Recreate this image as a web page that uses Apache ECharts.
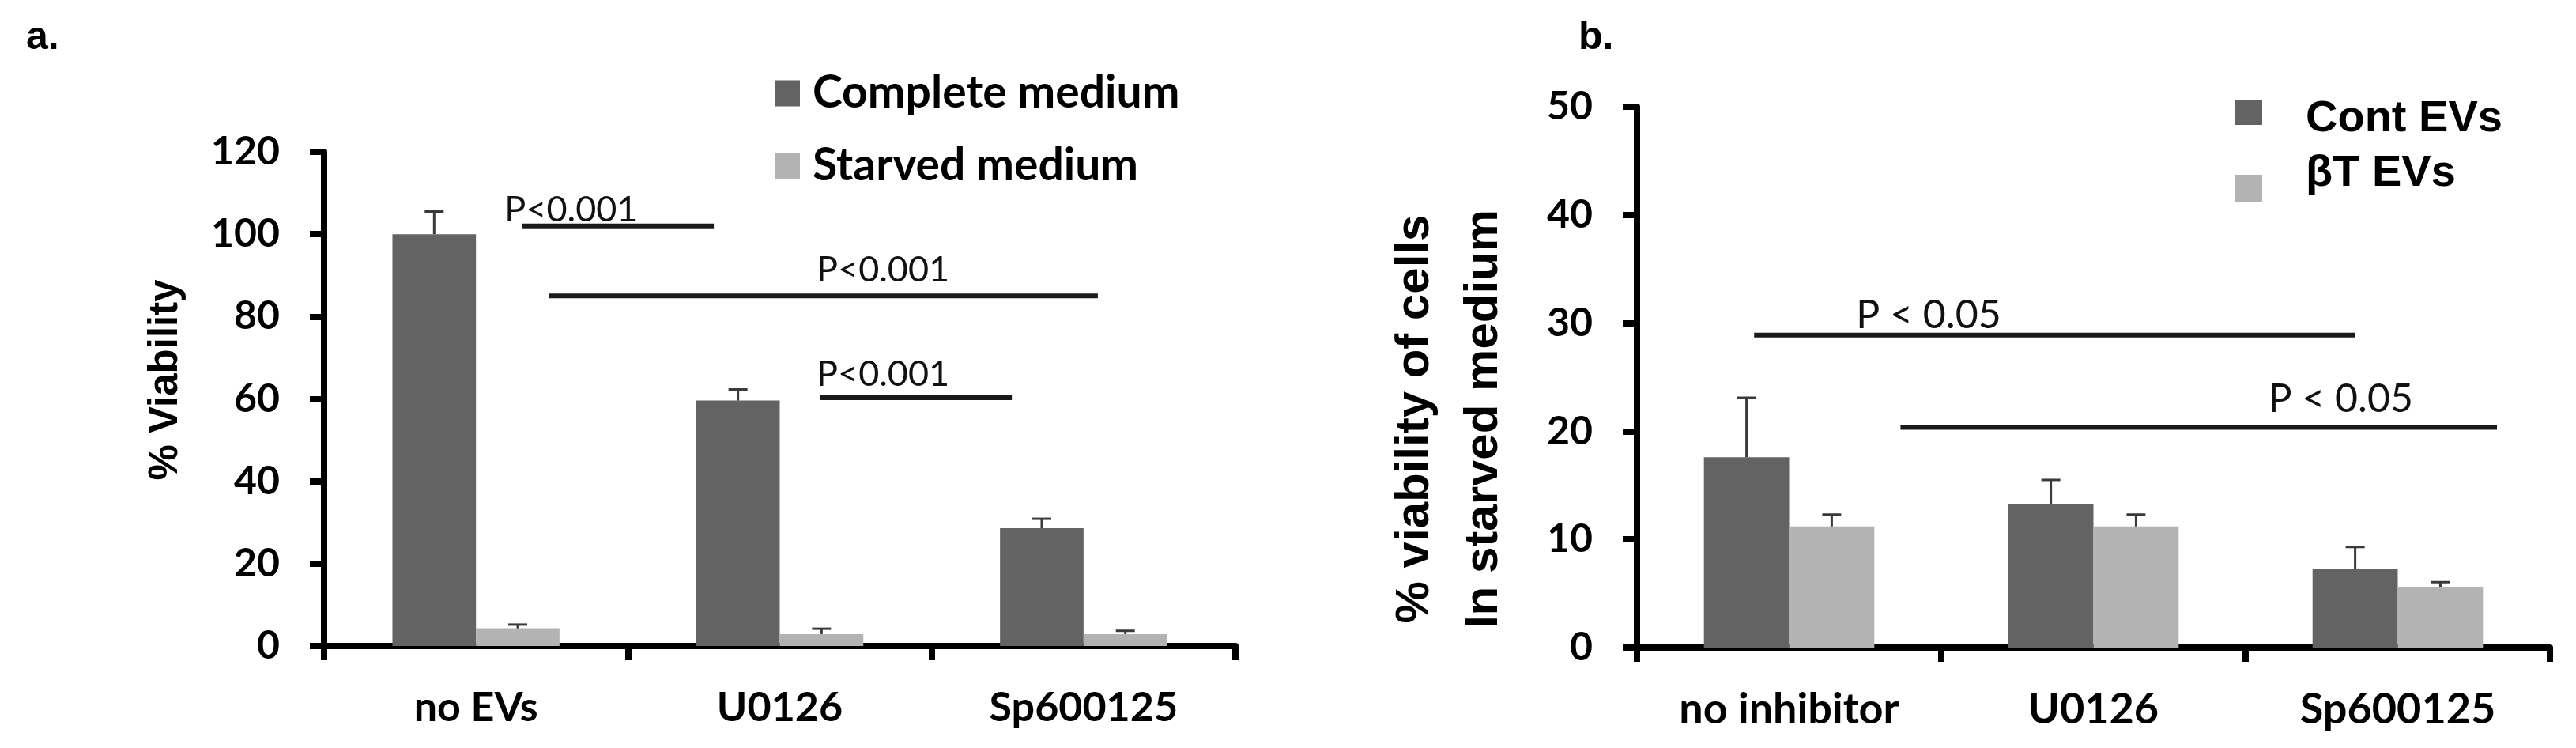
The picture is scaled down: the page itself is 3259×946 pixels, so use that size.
<!DOCTYPE html>
<html>
<head>
<meta charset="utf-8">
<script src="https://cdn.jsdelivr.net/npm/echarts@6.0.0/dist/echarts.min.js"></script>
<style>
  html, body { margin: 0; padding: 0; background: #fff; }
  #chart { width: 3259px; height: 946px; }
</style>
</head>
<body>
<div id="chart"></div>
<script>
// panel a
var categoriesA = ['no EVs', 'U0126', 'Sp600125']
var completeMedium = [100, 59.6, 28.6]
var completeErr = [5.5, 2.7, 2.3]
var starvedMedium = [4.3, 2.9, 2.9]
var starvedErr = [0.9, 1.3, 0.8]
var yTicksA = [0, 20, 40, 60, 80, 100, 120]
// significance: [from, to, level, labelX, labelLevel] in category units
var sigA = [
  [0.653, 1.283, 102, 0.594, 103.1],
  [0.739, 2.547, 85, 1.621, 88.5],
  [1.634, 2.264, 60.3, 1.621, 63.2]
]
var sigLabelsA = ['P<0.001', 'P<0.001', 'P<0.001']

// panel b
var categoriesB = ['no inhibitor', 'U0126', 'Sp600125']
var contEVs = [17.6, 13.3, 7.3]
var contErr = [5.5, 2.2, 2.0]
var btEVs = [11.2, 11.2, 5.6]
var btErr = [1.1, 1.1, 0.45]
var yTicksB = [0, 10, 20, 30, 40, 50]
var sigB = [
  [0.385, 2.36, 28.9, 0.72, 29.5],
  [0.866, 2.826, 20.35, 2.074, 21.7]
]
var sigLabelsB = ['P < 0.05', 'P < 0.05']

var DARK = '#636363'
var LIGHT = '#b3b3b3'
var labelFont = 'Lato'
var titleFont = 'Liberation Sans'

function errorRender (side, gap) {
  return function (params, api) {
    var idx = api.value(0)
    var base = api.coord([idx, api.value(1)])
    var top = api.coord([idx, api.value(1) + api.value(2)])
    var band = api.size([1, 0])[0]
    var bw = band * (1 - gap) / 2
    var x = base[0] + side * bw / 2
    return {
      type: 'group',
      children: [
        { type: 'line', shape: { x1: x, y1: base[1], x2: x, y2: top[1] }, style: { stroke: '#3a3a3a', lineWidth: 3 } },
        { type: 'line', shape: { x1: x - 12, y1: top[1], x2: x + 12, y2: top[1] }, style: { stroke: '#3a3a3a', lineWidth: 3 } }
      ]
    }
  }
}

function sigRender (labels, fontSize) {
  return function (params, api) {
    var p1 = api.coord([api.value(0), api.value(2)])
    var p2 = api.coord([api.value(1), api.value(2)])
    var pt = api.coord([api.value(3), api.value(4)])
    return {
      type: 'group',
      children: [
        { type: 'line', shape: { x1: p1[0], y1: p1[1], x2: p2[0], y2: p2[1] }, style: { stroke: '#1a1a1a', lineWidth: 6 } },
        {
          type: 'text', x: pt[0], y: pt[1] + 8,
          style: { text: labels[params.dataIndex], fill: '#111', fontFamily: labelFont, fontSize: fontSize, align: 'left', verticalAlign: 'bottom' }
        }
      ]
    }
  }
}

function catAxis (gridIndex, data, fontSize) {
  return {
    type: 'category', gridIndex: gridIndex, data: data,
    axisLine: { lineStyle: { color: '#000', width: 8 } },
    axisTick: { show: true, length: 18, lineStyle: { color: '#000', width: 8 } },
    axisLabel: { color: '#000', fontFamily: labelFont, fontWeight: 'bold', fontSize: fontSize, margin: 52 }
  }
}

function valAxis (gridIndex, ticks, name, nameGap, nameSize, lineHeight, namePad) {
  return {
    type: 'value', gridIndex: gridIndex,
    min: ticks[0], max: ticks[ticks.length - 1], interval: ticks[1] - ticks[0],
    splitLine: { show: false },
    axisLine: { show: true, lineStyle: { color: '#000', width: 8 } },
    axisTick: { show: true, length: 18, lineStyle: { color: '#000', width: 8 } },
    axisLabel: { color: '#000', fontFamily: labelFont, fontWeight: 'bold', fontSize: 50, margin: 56 },
    name: name, nameLocation: 'middle', nameGap: nameGap,
    nameTextStyle: { color: '#000', fontFamily: titleFont, fontWeight: 'bold', fontSize: nameSize, lineHeight: lineHeight, padding: namePad }
  }
}

function legendText (pad) {
  return {
    padding: pad,
    rich: { t: { fontFamily: titleFont, fontWeight: 'bold', fontSize: 56, color: '#000', lineHeight: 60 } }
  }
}

var chart = echarts.init(document.getElementById('chart'))
chart.setOption({
  animation: false,
  backgroundColor: '#fff',
  title: [
    { text: 'a.', left: 28, top: 18, textStyle: { fontFamily: titleFont, fontWeight: 'bold', fontSize: 50, color: '#000' } },
    { text: 'b.', left: 1992, top: 18, textStyle: { fontFamily: titleFont, fontWeight: 'bold', fontSize: 50, color: '#000' } }
  ],
  legend: [
    {
      left: 981, top: 88, padding: 0, orient: 'vertical', icon: 'rect', itemWidth: 31, itemHeight: 33, itemGap: 32,
      selectedMode: false, data: ['Complete medium', 'Starved medium'],
      textStyle: { fontFamily: labelFont, fontWeight: 'bold', fontSize: 57, color: '#000', lineHeight: 60, padding: [0, 0, 0, 11] }
    },
    {
      left: 2827, top: 123, padding: 0, icon: 'rect', itemWidth: 35, itemHeight: 32,
      selectedMode: false, data: ['Cont EVs'], formatter: '{t|{name}}',
      textStyle: legendText([18, 0, 0, 50])
    },
    {
      left: 2827, top: 192, padding: 0, icon: 'rect', itemWidth: 35, itemHeight: 34,
      selectedMode: false, data: ['βT EVs'], formatter: '{t|{name}}',
      textStyle: legendText([0, 0, 36, 50])
    }
  ],
  grid: [
    { left: 410, top: 192, width: 1153, height: 625 },
    { left: 2071, top: 135, width: 1155, height: 684 }
  ],
  xAxis: [
    catAxis(0, categoriesA, 52),
    catAxis(1, categoriesB, 54),
    { type: 'value', gridIndex: 0, min: 0, max: 3, show: false },
    { type: 'value', gridIndex: 1, min: 0, max: 3, show: false }
  ],
  yAxis: [
    valAxis(0, yTicksA, '% Viability', 170, 51, 60, [0, 0, 0, 48]),
    valAxis(1, yTicksB, '% viability of cells\nIn starved medium', 150, 60, 87, [0, 106, 0, 0])
  ],
  series: [
    { name: 'Complete medium', type: 'bar', xAxisIndex: 0, yAxisIndex: 0, data: completeMedium, itemStyle: { color: DARK }, barGap: '0%', barCategoryGap: '45%' },
    { name: 'Starved medium', type: 'bar', xAxisIndex: 0, yAxisIndex: 0, data: starvedMedium, itemStyle: { color: LIGHT }, barGap: '0%', barCategoryGap: '45%' },
    { name: 'Cont EVs', type: 'bar', xAxisIndex: 1, yAxisIndex: 1, data: contEVs, itemStyle: { color: DARK }, barGap: '0%', barCategoryGap: '44%' },
    { name: 'βT EVs', type: 'bar', xAxisIndex: 1, yAxisIndex: 1, data: btEVs, itemStyle: { color: LIGHT }, barGap: '0%', barCategoryGap: '44%' },
    {
      type: 'custom', xAxisIndex: 0, yAxisIndex: 0, z: 5, clip: false, encode: { x: 0, y: 1 },
      data: completeMedium.map(function (v, i) { return [i, v, completeErr[i]] }), renderItem: errorRender(-1, 0.45)
    },
    {
      type: 'custom', xAxisIndex: 0, yAxisIndex: 0, z: 5, clip: false, encode: { x: 0, y: 1 },
      data: starvedMedium.map(function (v, i) { return [i, v, starvedErr[i]] }), renderItem: errorRender(1, 0.45)
    },
    {
      type: 'custom', xAxisIndex: 1, yAxisIndex: 1, z: 5, clip: false, encode: { x: 0, y: 1 },
      data: contEVs.map(function (v, i) { return [i, v, contErr[i]] }), renderItem: errorRender(-1, 0.44)
    },
    {
      type: 'custom', xAxisIndex: 1, yAxisIndex: 1, z: 5, clip: false, encode: { x: 0, y: 1 },
      data: btEVs.map(function (v, i) { return [i, v, btErr[i]] }), renderItem: errorRender(1, 0.44)
    },
    {
      type: 'custom', xAxisIndex: 2, yAxisIndex: 0, z: 6, clip: false, encode: { x: [0, 1, 3], y: [2, 4] },
      data: sigA, renderItem: sigRender(sigLabelsA, 45)
    },
    {
      type: 'custom', xAxisIndex: 3, yAxisIndex: 1, z: 6, clip: false, encode: { x: [0, 1, 3], y: [2, 4] },
      data: sigB, renderItem: sigRender(sigLabelsB, 50)
    }
  ]
})
</script>
</body>
</html>
